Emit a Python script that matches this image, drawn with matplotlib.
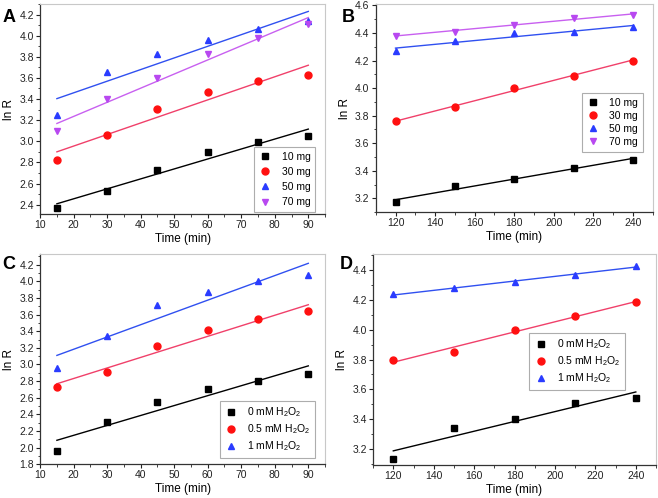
import numpy as np
import matplotlib
matplotlib.use('Agg')
import matplotlib.pyplot as plt
from matplotlib.ticker import MultipleLocator

plt.rcParams['font.family'] = ['Liberation Sans', 'DejaVu Sans']
plt.rcParams['mathtext.default'] = 'regular'

# data
t_short = [15, 30, 45, 60, 75, 90]
t_long = [120, 150, 180, 210, 240]

mass_labels = ['10 mg', '30 mg', '50 mg', '70 mg']
a_10 = [2.37, 2.53, 2.73, 2.90, 2.99, 3.05]
a_30 = [2.82, 3.06, 3.31, 3.47, 3.57, 3.63]
a_50 = [3.25, 3.66, 3.83, 3.96, 4.06, 4.14]
a_70 = [3.10, 3.40, 3.60, 3.83, 3.98, 4.11]

b_10 = [3.17, 3.29, 3.34, 3.42, 3.48]
b_30 = [3.76, 3.86, 4.00, 4.09, 4.20]
b_50 = [4.27, 4.34, 4.40, 4.41, 4.44]
b_70 = [4.38, 4.41, 4.46, 4.51, 4.53]

h2o2_labels = ['0 mM H$_2$O$_2$', '0.5 mM H$_2$O$_2$', '1 mM H$_2$O$_2$']
c_0 = [1.96, 2.31, 2.55, 2.70, 2.80, 2.89]
c_05 = [2.73, 2.91, 3.22, 3.41, 3.55, 3.64]
c_1 = [2.96, 3.34, 3.72, 3.87, 4.01, 4.08]

d_0 = [3.13, 3.34, 3.40, 3.51, 3.54]
d_05 = [3.80, 3.85, 4.00, 4.09, 4.19]
d_1 = [4.24, 4.28, 4.32, 4.37, 4.43]

marker_col = ['black', '#ff1010', '#2a3cff', '#b848f0']
line_col = ['black', '#f0406a', '#3050f0', '#c860f0']
markers = ['s', 'o', '^', 'v']

fig = plt.figure(figsize=(6.58, 4.98), dpi=100)


def panel(rect, x, series, labels, xlim, ylim, xmaj, ymaj, leg_loc, leg_anchor, lspace):
    ax = fig.add_axes(rect)
    for i, y in enumerate(series):
        ax.plot(x, y, linestyle='none', marker=markers[i], color=marker_col[i],
                markersize=5, label=labels[i], zorder=3)
        k, b = np.polyfit(x, y, 1)
        xx = np.array([x[0], x[-1]])
        ax.plot(xx, k * xx + b, color=line_col[i], lw=1.0, zorder=2)
    ax.set_xlim(*xlim)
    ax.set_ylim(*ylim)
    ax.xaxis.set_major_locator(MultipleLocator(xmaj))
    ax.xaxis.set_minor_locator(MultipleLocator(xmaj / 2))
    ax.yaxis.set_major_locator(MultipleLocator(ymaj))
    ax.yaxis.set_minor_locator(MultipleLocator(ymaj / 2))
    ax.tick_params(which='major', labelsize=7.5, length=3, width=0.8, colors='#222222', pad=1.5)
    ax.tick_params(which='minor', length=1.8, width=0.6, colors='#222222')
    ax.yaxis.set_major_formatter(matplotlib.ticker.FormatStrFormatter('%.1f'))
    for s in ['top', 'right']:
        ax.spines[s].set_color('#c8c8c8')
    for s in ['left', 'bottom']:
        ax.spines[s].set_color('#333333')
        ax.spines[s].set_linewidth(0.9)
    ax.set_xlabel('Time (min)', fontsize=8.5, labelpad=2)
    ax.set_ylabel('ln R', fontsize=8.5, labelpad=3)
    leg = ax.legend(loc=leg_loc, bbox_to_anchor=leg_anchor, fontsize=7.5, fancybox=False,
                    handletextpad=0.9, borderpad=0.45, labelspacing=lspace, handlelength=1.3,
                    borderaxespad=0)
    leg.get_frame().set_edgecolor('#999999')
    leg.get_frame().set_linewidth(0.8)
    return ax


panel([0.061, 0.570, 0.433, 0.422], t_short, [a_10, a_30, a_50, a_70], mass_labels,
      (10, 95), (2.31, 4.30), 10, 0.2, 'lower right', (0.965, 0.01), 0.5)
panel([0.571, 0.574, 0.421, 0.418], t_long, [b_10, b_30, b_50, b_70], mass_labels,
      (110, 250), (3.10, 4.61), 20, 0.2, 'upper right', (0.964, 0.572), 0.3)
panel([0.061, 0.068, 0.433, 0.422], t_short, [c_0, c_05, c_1], h2o2_labels,
      (10, 95), (1.80, 4.33), 10, 0.2, 'lower right', (0.965, 0.03), 0.3)
panel([0.567, 0.066, 0.430, 0.424], t_long, [d_0, d_05, d_1], h2o2_labels,
      (110, 250), (3.09, 4.51), 20, 0.2, 'upper right', (0.89, 0.626), 0.3)

for letter, (fx, fy) in zip('ABCD', [(0.004, 0.982), (0.519, 0.982), (0.004, 0.485), (0.517, 0.485)]):
    fig.text(fx, fy, letter, fontsize=13, fontweight='bold', va='top', ha='left')

fig.savefig('out.png', dpi=100)
